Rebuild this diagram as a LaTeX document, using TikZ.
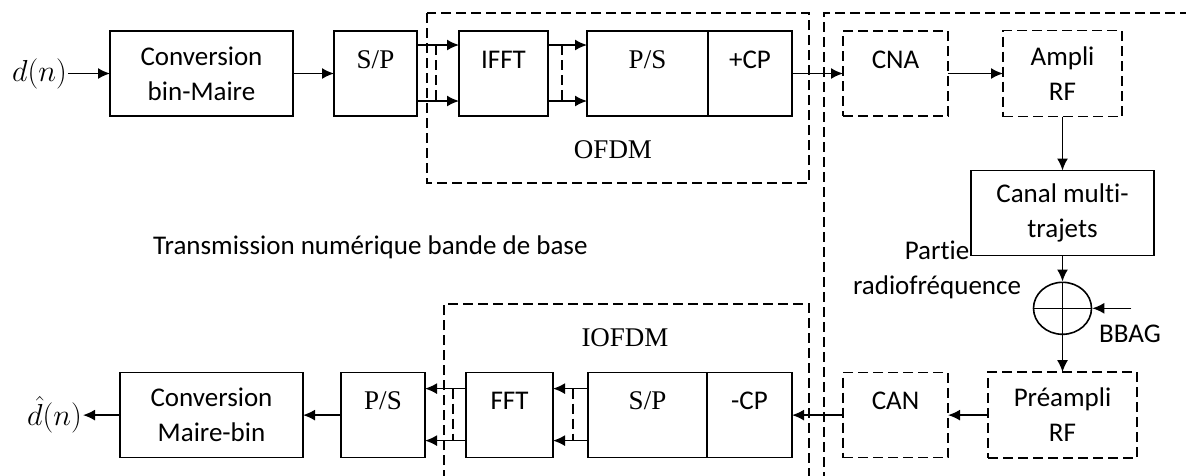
\documentclass[tikz,border=0pt]{standalone}
\usepackage{fontspec}
\setmainfont{Carlito}[Ligatures=NoCommon]
\newfontfamily\tnr{Liberation Serif}
\usetikzlibrary{arrows.meta,positioning,shapes.geometric,calc}
\tikzset{
  block/.style    ={draw,line width=1.6pt,outer sep=0pt,inner sep=0pt,align=center,minimum height=85pt},
  topblock/.style ={block,text height=37pt,text depth=48pt},
  rfblock/.style  ={block,dash pattern=on 10pt off 5pt},
  rftop/.style    ={topblock,dash pattern=on 10pt off 5pt},
  sumnode/.style  ={draw,ellipse,line width=1.6pt,minimum width=58pt,minimum height=52pt,inner sep=0pt,
                    path picture={\draw[line width=1.6pt]
                      (path picture bounding box.north) -- (path picture bounding box.south)
                      (path picture bounding box.west) -- (path picture bounding box.east);}},
  arrow/.style    ={-{Latex[length=12pt,width=11pt]},line width=1.6pt},
  group/.style    ={line width=1.6pt,dash pattern=on 10pt off 5pt},
  signal/.style   ={inner sep=1pt},
  legend/.style   ={inner sep=0pt,align=center}
}
\begin{document}
\begin{tikzpicture}[x=1pt,y=-1pt,font=\fontsize{27}{35}\selectfont]
    \useasboundingbox (0,0) rectangle (1186,475);
    % emission
    \node[block,minimum width=183pt] (conv1) at (201.5,73.5) {Conversion\\bin-Maire};
    \node[signal,left=42pt of conv1]  (din)   {\scalebox{1.22}{$d(n)$}};
    \node[topblock,minimum width=83pt,right=41pt of conv1]  (sp1)   {\tnr S/P};
    \node[topblock,minimum width=89pt,right=42pt of sp1]    (ifft)  {IFFT};
    \node[topblock,minimum width=121pt,right=39pt of ifft]  (ps1)   {\tnr P/S};
    \node[topblock,minimum width=84pt,right=0pt of ps1]     (addcp) {+CP};
    \node[rftop,minimum width=105pt,right=51pt of addcp]    (cna)   {CNA};
    \node[rfblock,minimum width=119pt,minimum height=86pt,right=55pt of cna] (ampli) {Ampli\\RF};
    \node[block,minimum width=183pt,below=54pt of ampli]    (canal) {Canal multi-\\trajets};
    \node[sumnode,below=26pt of canal]                      (sum)   {};
    \node[rfblock,minimum width=149pt,minimum height=86pt,below=37pt of sum] (preampli) {Préampli\\RF};
    % reception
    \node[rftop,minimum width=105pt,left=40pt of preampli]  (can)   {CAN};
    \node[topblock,minimum width=85pt,left=51pt of can]     (mcp)   {-CP};
    \node[topblock,minimum width=119pt,left=0pt of mcp]     (sp2)   {\tnr S/P};
    \node[topblock,minimum width=87pt,left=35pt of sp2]     (fft)   {FFT};
    \node[topblock,minimum width=84pt,left=41pt of fft]     (ps2)   {\tnr P/S};
    \node[block,minimum width=183pt,left=38pt of ps2]       (conv2) {Conversion\\Maire-bin};
    \node[signal,left=37pt of conv2]  (dhat)  {\scalebox{1.22}{$\hat{d}(n)$}};
    % groupes
    \draw[group] (427,13) rectangle (809,183);
    \draw[group] (1190,13) -| (824,480);
    \draw[group] (444,480) |- (809,304) -- (809,480);
    \node[legend] (ofdm)    at (613,150) {\tnr OFDM};
    \node[legend] (iofdm)   at (625,338) {\tnr IOFDM};
    \node[legend,anchor=west] (bande) at (153,247) {Transmission numérique bande de base};
    \node[legend] (rflabel) at (937,270) {Partie\\radiofréquence};
    \node[legend] (bbag)    at (1130,334) {BBAG};
    \coordinate (noise) at ($(sum.east)+(39,0)$);
    % liaisons
    \draw[arrow] (din)   -- (conv1);
    \draw[arrow] (conv1) -- (sp1);
    \draw[arrow] ($(sp1.north east)+(0,14)$)  -- ($(ifft.north west)+(0,14)$);
    \draw[arrow] ($(sp1.south east)+(0,-15)$) -- ($(ifft.south west)+(0,-15)$);
    \draw[group] ($(sp1.north east)!0.45!(ifft.north west)+(0,14)$) -- ($(sp1.south east)!0.45!(ifft.south west)+(0,-15)$);
    \draw[arrow] ($(ifft.north east)+(0,14)$)  -- ($(ps1.north west)+(0,14)$);
    \draw[arrow] ($(ifft.south east)+(0,-15)$) -- ($(ps1.south west)+(0,-15)$);
    \draw[group] ($(ifft.north east)!0.36!(ps1.north west)+(0,14)$) -- ($(ifft.south east)!0.36!(ps1.south west)+(0,-15)$);
    \draw[arrow] (addcp) -- (cna);
    \draw[arrow] (cna)   -- (ampli);
    \draw[arrow] (ampli) -- (canal);
    \draw[arrow] (canal) -- (sum);
    \draw[arrow] (noise) -- (sum);
    \draw[arrow] (sum)   -- (preampli);
    \draw[arrow] (preampli) -- (can);
    \draw[arrow] (can)   -- (mcp);
    \draw[arrow] ($(sp2.north west)+(0,16)$)  -- ($(fft.north east)+(0,16)$);
    \draw[arrow] ($(sp2.south west)+(0,-17)$) -- ($(fft.south east)+(0,-17)$);
    \draw[group] ($(sp2.north west)!0.43!(fft.north east)+(0,16)$) -- ($(sp2.south west)!0.43!(fft.south east)+(0,-17)$);
    \draw[arrow] ($(fft.north west)+(0,16)$)  -- ($(ps2.north east)+(0,16)$);
    \draw[arrow] ($(fft.south west)+(0,-17)$) -- ($(ps2.south east)+(0,-17)$);
    \draw[group] ($(fft.north west)!0.32!(ps2.north east)+(0,16)$) -- ($(fft.south west)!0.32!(ps2.south east)+(0,-17)$);
    \draw[arrow] (ps2)   -- (conv2);
    \draw[arrow] (conv2) -- (dhat);
  \end{tikzpicture}
\end{document}
